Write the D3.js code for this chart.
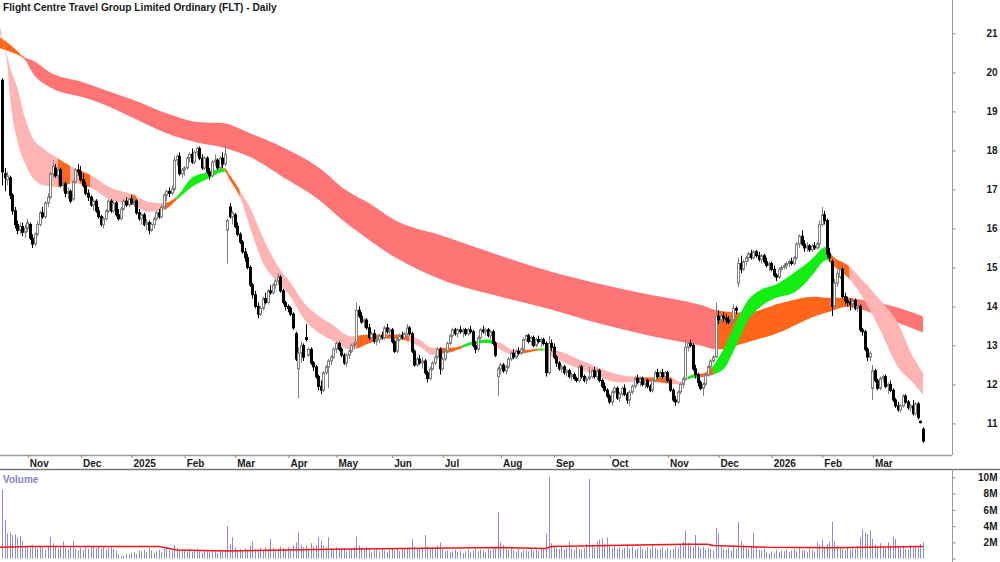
<!DOCTYPE html>
<html>
<head>
<meta charset="utf-8">
<script src="https://cdn.jsdelivr.net/npm/d3@7"></script>
<style>
  body { margin: 0; background: #fff; }
  svg { display: block; }
  text { font-family: "Liberation Sans", Arial, sans-serif; font-weight: bold; font-size: 10px; fill: #1a1a1a; }
</style>
</head>
<body>
<svg id="chart" width="1000" height="562"></svg>
<script>
const title = 'Flight Centre Travel Group Limited Ordinary (FLT) - Daily';

// first trading day of each month, as a bar index
const monthTicks = [['Nov', 10], ['Dec', 31], ['2025', 51], ['Feb', 72], ['Mar', 92], ['Apr', 113],
  ['May', 132], ['Jun', 154], ['Jul', 174], ['Aug', 197], ['Sep', 218], ['Oct', 240], ['Nov', 263],
  ['Dec', 283], ['2026', 304], ['Feb', 324], ['Mar', 344]];
const priceTicks = [11, 12, 13, 14, 15, 16, 17, 18, 19, 20, 21];
const volumeTicks = [0, 2, 4, 6, 8, 10];

// daily [open, high, low, close], 18 Oct 2024 .. 30 Mar 2026
const ohlc = [
  [19.80,19.85,17.10,17.45],[17.40,17.55,16.95,17.30],[17.25,17.45,17.10,17.35],[17.30,17.35,16.75,16.85],[16.85,16.90,16.35,16.45],
  [16.45,16.55,16.00,16.10],[16.10,16.20,15.85,15.95],[15.95,16.15,15.85,16.05],[16.05,16.15,15.80,15.90],[15.90,16.10,15.75,16.00],
  [16.00,16.25,15.90,16.15],[16.10,16.15,15.70,15.75],[15.75,15.85,15.50,15.60],[15.60,15.90,15.55,15.85],[15.85,16.20,15.80,16.10],
  [16.10,16.45,16.05,16.40],[16.40,16.55,16.25,16.30],[16.30,16.70,16.25,16.65],[16.65,16.90,16.55,16.80],[16.80,17.45,16.75,17.40],
  [17.40,17.75,17.30,17.60],[17.55,17.65,17.30,17.35],[17.35,17.60,17.25,17.50],[17.50,17.55,17.05,17.10],[17.10,17.25,16.95,17.15],
  [17.15,17.20,16.80,16.90],[16.90,17.05,16.75,16.95],[16.95,17.00,16.65,16.70],[16.75,17.25,16.70,17.20],[17.20,17.55,17.15,17.50],
  [17.50,17.65,17.35,17.45],[17.45,17.60,17.20,17.25],[17.25,17.40,17.05,17.10],[17.10,17.20,16.85,16.90],[16.90,17.00,16.70,16.80],
  [16.80,16.85,16.55,16.60],[16.60,16.75,16.45,16.70],[16.70,16.75,16.40,16.45],[16.45,16.55,16.25,16.30],[16.30,16.35,16.05,16.10],
  [16.10,16.30,16.00,16.25],[16.25,16.50,16.20,16.45],[16.45,16.75,16.40,16.70],[16.70,16.75,16.40,16.45],[16.45,16.70,16.40,16.65],
  [16.65,16.70,16.30,16.35],[16.35,16.50,16.20,16.25],[16.25,16.55,16.20,16.50],[16.50,16.75,16.45,16.70],[16.70,16.80,16.55,16.60],
  [16.60,16.80,16.55,16.75],[16.75,16.85,16.60,16.65],[16.65,16.80,16.55,16.70],[16.70,16.75,16.35,16.40],[16.40,16.50,16.20,16.25],
  [16.25,16.40,16.10,16.35],[16.35,16.40,16.05,16.10],[16.10,16.25,15.95,16.15],[16.15,16.20,15.85,15.95],[15.95,16.15,15.90,16.10],
  [16.10,16.30,16.00,16.25],[16.25,16.45,16.20,16.40],[16.40,16.50,16.25,16.30],[16.30,16.60,16.25,16.55],[16.55,16.90,16.50,16.85],
  [16.85,17.00,16.70,16.95],[16.95,17.05,16.80,16.90],[16.90,17.10,16.85,17.00],[17.00,17.85,16.95,17.75],[17.75,17.90,17.60,17.85],
  [17.85,17.95,17.35,17.40],[17.40,17.55,17.30,17.50],[17.50,17.60,17.35,17.55],[17.55,17.85,17.50,17.80],[17.80,17.95,17.70,17.90],
  [17.90,18.05,17.65,17.70],[17.70,18.00,17.65,17.95],[17.95,18.10,17.85,18.05],[18.05,18.10,17.75,17.80],[17.80,17.90,17.50,17.55],
  [17.55,17.85,17.50,17.80],[17.80,17.85,17.40,17.45],[17.45,17.55,17.25,17.35],[17.35,17.75,17.30,17.70],[17.70,17.90,17.60,17.75],
  [17.75,17.80,17.50,17.55],[17.55,17.85,17.50,17.80],[17.80,17.95,17.55,17.65],[17.65,18.15,17.60,17.90],[15.95,16.25,15.10,16.20],
  [16.55,16.65,16.25,16.30],[16.30,16.45,16.10,16.40],[16.35,16.40,16.00,16.05],[16.05,16.15,15.80,15.85],[15.85,15.90,15.60,15.65],
  [15.65,15.70,15.35,15.40],[15.40,15.50,15.15,15.25],[15.25,15.35,14.95,15.00],[15.00,15.05,14.50,14.55],[14.55,14.60,14.20,14.30],
  [14.30,14.40,13.95,14.00],[14.00,14.10,13.70,13.80],[13.80,14.00,13.75,13.95],[13.95,14.25,13.90,14.20],[14.20,14.35,14.05,14.10],
  [14.10,14.45,14.05,14.40],[14.40,14.55,14.30,14.35],[14.35,14.60,14.30,14.55],[14.55,14.70,14.45,14.65],[14.65,14.85,14.55,14.75],
  [14.75,14.80,14.35,14.40],[14.40,14.45,14.05,14.10],[14.10,14.15,13.90,14.00],[14.00,14.05,13.85,13.95],[13.95,14.00,13.75,13.80],
  [13.80,13.85,13.40,13.45],[13.30,13.35,12.60,12.65],[12.40,12.95,11.65,12.80],[12.80,13.10,12.55,13.00],[13.00,13.05,12.60,12.70],
  [13.20,13.55,13.10,13.15],[12.75,12.95,12.70,12.90],[12.90,12.95,12.50,12.55],[12.55,12.60,12.35,12.45],[12.45,12.50,12.15,12.20],
  [12.20,12.25,11.85,11.95],[11.95,12.10,11.75,11.85],[11.85,12.35,11.80,12.30],[12.30,12.50,12.25,12.45],[12.45,12.65,11.90,12.60],
  [12.60,12.75,12.50,12.70],[12.70,12.95,12.65,12.90],[12.90,13.10,12.80,13.05],[13.05,13.10,12.85,12.90],[12.90,12.95,12.70,12.75],
  [12.75,12.80,12.50,12.55],[12.55,12.80,12.45,12.75],[12.75,12.90,12.65,12.85],[12.85,13.05,12.80,13.00],[13.00,13.10,12.90,13.05],
  [13.10,14.10,13.05,13.90],[13.90,14.00,13.70,13.75],[13.75,13.85,13.55,13.60],[13.60,13.70,13.45,13.65],[13.65,13.70,13.40,13.45],
  [13.45,13.55,13.15,13.20],[13.20,13.35,13.10,13.30],[13.30,13.40,13.05,13.10],[13.10,13.25,13.00,13.15],[13.15,13.30,13.05,13.25],
  [13.25,13.35,13.15,13.20],[13.20,13.50,13.15,13.45],[13.45,13.55,13.30,13.35],[13.35,13.45,13.20,13.40],[13.40,13.45,13.05,13.10],
  [13.10,13.15,12.80,12.85],[12.85,13.20,12.80,13.15],[13.15,13.30,13.10,13.25],[13.25,13.35,13.15,13.20],[13.20,13.35,13.15,13.30],
  [13.30,13.55,13.25,13.45],[13.45,13.50,13.25,13.30],[13.30,13.35,12.80,12.85],[12.85,12.90,12.45,12.50],[12.50,12.70,12.45,12.65],
  [12.65,12.75,12.50,12.55],[12.55,12.70,12.40,12.60],[12.60,12.65,12.25,12.30],[12.30,12.35,12.05,12.15],[12.15,12.45,12.10,12.40],
  [12.40,12.60,12.35,12.55],[12.55,12.75,12.50,12.70],[12.70,12.95,12.65,12.90],[12.90,12.95,12.25,12.40],[12.40,12.70,12.35,12.65],
  [12.65,12.90,12.60,12.85],[12.85,13.10,12.80,13.05],[13.05,13.30,13.00,13.25],[13.25,13.45,13.20,13.40],[13.40,13.45,13.25,13.30],
  [13.30,13.45,13.20,13.40],[13.40,13.50,13.30,13.35],[13.35,13.45,13.20,13.40],[13.40,13.45,13.25,13.30],[13.30,13.45,13.25,13.40],
  [13.40,13.50,13.30,13.35],[13.35,13.40,12.95,13.00],[13.00,13.10,12.80,12.90],[12.90,13.25,12.85,13.20],[13.20,13.45,13.15,13.40],
  [13.40,13.50,13.30,13.35],[13.35,13.45,13.25,13.40],[13.40,13.45,13.20,13.25],[13.25,13.40,13.15,13.35],[13.35,13.40,13.00,13.05],
  [13.05,13.10,12.70,12.75],[12.20,12.45,11.70,12.40],[12.40,12.55,12.25,12.50],[12.50,12.55,12.30,12.35],[12.35,12.50,12.25,12.45],
  [12.45,12.70,12.40,12.65],[12.65,12.85,12.60,12.80],[12.80,12.90,12.65,12.70],[12.70,12.90,12.65,12.85],[12.85,12.95,12.75,12.80],
  [12.80,12.95,12.75,12.90],[12.90,13.20,12.85,13.15],[13.15,13.30,13.10,13.25],[13.25,13.30,13.05,13.10],[13.10,13.25,13.00,13.20],
  [13.20,13.25,12.95,13.00],[13.00,13.20,12.95,13.15],[13.15,13.25,13.05,13.10],[13.10,13.20,12.95,13.15],[13.15,13.20,13.00,13.05],
  [13.05,13.10,12.20,12.30],[12.30,13.25,12.25,13.05],[13.05,13.15,12.85,12.95],[12.95,13.05,12.65,12.70],[12.70,12.75,12.45,12.55],
  [12.55,12.60,12.35,12.40],[12.40,12.50,12.30,12.45],[12.45,12.50,12.25,12.30],[12.30,12.40,12.20,12.35],[12.35,12.40,12.15,12.20],
  [12.20,12.30,12.10,12.25],[12.25,12.30,12.10,12.15],[12.15,12.20,12.05,12.10],[12.10,12.50,12.05,12.45],[12.45,12.50,12.15,12.20],
  [12.20,12.25,12.05,12.10],[12.10,12.20,12.00,12.15],[12.15,12.45,12.10,12.20],[12.20,12.40,12.15,12.35],[12.35,12.45,12.15,12.20],
  [12.20,12.40,12.10,12.35],[12.35,12.40,12.05,12.10],[12.10,12.15,11.90,11.95],[11.95,12.05,11.80,11.85],[11.85,11.90,11.65,11.70],
  [11.70,11.75,11.50,11.55],[11.55,11.85,11.45,11.80],[11.80,11.95,11.75,11.90],[11.90,11.95,11.60,11.65],[11.65,11.80,11.55,11.75],
  [11.75,11.95,11.70,11.90],[11.90,12.00,11.70,11.75],[11.75,11.80,11.50,11.60],[11.60,11.85,11.45,11.80],[11.80,12.00,11.75,11.95],
  [11.95,12.20,11.90,12.15],[12.15,12.25,12.00,12.05],[12.05,12.20,11.95,12.15],[12.15,12.20,11.95,12.00],[12.00,12.15,11.90,12.10],
  [12.10,12.15,11.90,11.95],[11.95,12.00,11.80,11.85],[11.85,12.15,11.80,12.10],[12.10,12.35,12.05,12.30],[12.30,12.40,12.15,12.20],
  [12.20,12.35,12.10,12.30],[12.30,12.40,12.15,12.20],[12.20,12.35,12.10,12.30],[12.30,12.35,12.05,12.10],[12.10,12.15,11.80,11.85],
  [11.85,11.90,11.55,11.60],[11.60,11.70,11.45,11.55],[11.55,11.85,11.50,11.80],[11.80,12.05,11.75,12.00],[12.00,12.20,11.90,12.15],
  [12.15,13.15,12.10,12.95],[12.95,13.10,12.85,13.05],[13.05,13.15,12.95,13.00],[13.00,13.05,12.35,12.40],[12.40,12.50,12.15,12.25],
  [12.25,12.30,11.95,12.05],[12.05,12.10,11.85,11.90],[11.90,12.05,11.70,12.00],[12.00,12.30,11.95,12.25],[12.25,12.50,12.20,12.45],
  [12.45,12.65,12.40,12.60],[12.60,12.75,12.55,12.70],[12.70,14.10,12.70,13.75],[13.75,13.90,13.55,13.65],[13.65,13.80,13.55,13.75],
  [13.75,13.85,13.60,13.70],[13.70,13.80,13.55,13.65],[13.65,13.75,13.55,13.60],[13.60,13.70,13.50,13.65],[13.65,14.05,13.65,13.95],
  [13.95,14.00,13.80,13.90],[14.60,15.25,14.50,15.10],[15.10,15.30,14.85,14.95],[14.95,15.20,14.90,15.15],[15.15,15.30,15.05,15.25],
  [15.25,15.40,15.15,15.35],[15.35,15.45,15.20,15.25],[15.25,15.45,15.20,15.40],[15.40,15.45,15.25,15.30],[15.30,15.40,15.15,15.20],
  [15.20,15.35,15.10,15.30],[15.30,15.35,15.10,15.15],[15.15,15.25,15.00,15.05],[15.05,15.15,14.90,15.10],[15.10,15.15,14.90,14.95],
  [14.95,15.05,14.75,14.80],[14.80,14.85,14.65,14.75],[14.75,15.00,14.70,14.95],[14.95,15.05,14.90,15.00],[15.00,15.10,14.95,15.05],
  [15.05,15.15,14.95,15.10],[15.10,15.20,15.00,15.15],[15.15,15.25,15.05,15.10],[15.10,15.30,15.05,15.25],[15.25,15.65,15.20,15.60],
  [15.60,15.85,15.50,15.80],[15.80,15.95,15.55,15.60],[15.60,15.70,15.40,15.50],[15.50,15.65,15.40,15.55],[15.55,15.60,15.40,15.45],
  [15.45,15.60,15.40,15.55],[15.55,15.65,15.45,15.50],[15.50,15.65,15.45,15.60],[15.60,16.20,15.50,16.10],[16.10,16.55,16.05,16.35],
  [16.35,16.45,16.10,16.20],[16.20,16.25,15.25,15.35],[15.35,15.50,15.15,15.25],[15.15,15.20,13.75,14.00],[14.00,14.70,13.95,14.60],
  [14.60,14.95,14.50,14.85],[14.75,15.00,14.70,14.95],[14.95,15.00,14.20,14.25],[14.25,14.35,14.05,14.15],[14.15,14.25,14.00,14.10],
  [14.10,14.20,13.90,14.05],[14.05,14.20,13.95,14.15],[14.15,14.20,13.90,13.95],[13.95,14.05,13.85,14.00],[14.00,14.05,13.35,13.40],
  [13.40,13.45,13.25,13.35],[13.35,13.40,12.85,12.90],[12.90,12.95,12.60,12.70],[12.70,12.85,12.60,12.80],[11.90,12.50,11.60,12.35],
  [12.35,12.40,12.05,12.10],[12.10,12.15,11.85,11.90],[11.90,12.20,11.85,12.15],[12.15,12.25,12.05,12.20],[12.20,12.25,11.90,11.95],
  [11.95,12.05,11.75,12.00],[12.00,12.10,11.80,11.85],[11.85,11.90,11.55,11.60],[11.60,11.65,11.40,11.45],[11.45,11.55,11.30,11.35],
  [11.35,11.50,11.30,11.45],[11.45,11.75,11.40,11.70],[11.70,11.75,11.50,11.55],[11.55,11.60,11.35,11.40],[11.40,11.50,11.30,11.45],
  [11.45,11.60,11.20,11.25],[11.25,11.55,11.20,11.50],[11.50,11.55,11.10,11.15],[11.05,11.08,11.00,11.02],[10.85,10.90,10.50,10.55]
];

// daily volume, millions of shares
const volumes = [
  8.5,4.8,3.1,3.2,2.9,3.0,2.6,2.8,2.2,1.6, 1.5,1.3,1.7,1.4,1.2,1.5,1.3,1.1,1.6,2.7,
  1.9,1.4,1.2,1.5,2.1,1.3,1.1,1.4,2.2,1.2, 1.0,1.3,1.1,1.5,1.2,1.4,1.6,1.3,1.5,1.2,
  1.4,1.1,1.3,1.6,1.2,1.0,0.5,0.3,0.4,0.6, 0.5,0.7,0.8,0.6,1.0,0.9,1.1,0.8,1.3,1.0,
  0.7,0.9,1.1,0.8,1.2,1.4,1.0,0.9,1.6,1.3, 1.1,1.2,1.0,0.9,1.1,0.8,1.0,1.2,0.9,0.7,
  0.9,1.1,0.8,1.0,0.9,0.7,1.0,0.8,1.1,4.0, 1.8,2.6,1.3,1.0,1.2,0.9,1.3,1.1,1.6,2.1,
  1.2,1.0,1.3,1.1,1.4,1.2,2.4,1.3,1.0,1.2, 1.5,1.3,1.1,1.4,1.2,1.6,2.0,3.2,1.7,1.4,
  1.6,1.3,1.9,1.5,1.7,2.6,2.2,1.6,1.4,2.6, 1.3,1.1,1.4,1.0,1.2,1.3,0.9,1.1,1.2,1.4,
  2.7,1.6,1.3,1.1,1.4,1.2,0.8,1.0,1.1,0.9, 1.2,1.0,0.8,1.1,1.3,1.0,1.2,0.9,1.1,1.3,
  1.2,1.4,2.4,1.5,1.3,1.2,1.4,2.9,1.5,1.2, 1.4,1.3,1.6,2.0,1.2,0.9,1.0,0.8,0.9,1.1,
  0.8,1.0,0.7,0.9,1.1,0.8,1.0,1.2,0.9,1.1, 1.0,0.8,1.2,1.0,1.4,1.3,5.7,2.0,1.7,1.2,
  1.1,1.4,1.0,0.9,1.2,0.8,1.1,1.0,0.9,1.2, 1.0,1.1,0.9,1.2,1.3,3.0,10.0,1.9,1.5,1.3,
  1.2,1.4,1.1,1.3,2.1,1.2,1.0,1.4,1.2,1.1, 1.3,1.8,9.8,1.6,1.4,2.1,2.3,2.5,1.8,2.6,
  1.5,1.3,1.6,1.2,1.4,1.1,1.3,1.7,1.2,1.5, 1.1,1.3,1.5,1.2,1.0,1.4,1.2,1.6,1.3,1.1,
  1.2,1.4,1.0,1.3,1.1,1.2,1.5,1.3,1.8,2.1, 3.5,1.9,1.6,1.4,2.9,1.5,1.2,1.4,1.1,1.3,
  1.2,1.0,3.8,3.1,1.5,1.2,1.1,1.3,1.0,1.4, 1.2,4.5,2.2,1.7,1.4,1.2,1.6,3.2,1.5,1.1,
  1.0,1.2,0.8,0.6,0.9,0.7,1.1,0.8,1.0,0.9, 1.1,0.8,1.0,1.2,0.9,1.3,1.1,1.0,0.8,1.2,
  1.1,0.9,2.0,1.7,2.3,1.4,1.8,2.0,4.5,2.1, 1.6,1.4,1.2,1.0,1.3,1.1,1.4,1.2,1.6,2.6,
  3.6,3.2,3.0,3.5,2.4,1.7,1.5,1.9,1.4,1.3, 2.0,1.6,2.7,2.4,1.5,1.3,1.6,1.2,1.1,1.7,
  1.4,1.6,1.5,1.8,2.0
];

// volume average line: [bar index, millions]
const volumeAvg = [[-0.8, 1.4], [11, 1.5], [62, 1.5], [69, 1.05], [89, 0.95], [131, 1.15], [197, 1.35],
  [215, 1.25], [217, 1.5], [240, 1.6], [270, 1.75], [279, 1.75], [281, 1.6], [302, 1.4], [328, 1.35], [364, 1.5]];

// short-term moving average ribbon: [bar index, upper, lower]
const shortBand = [
  [-0.8, 21.15, 21.0], [2, 20.44, 20.26], [3, 20.18, 19.47], [6, 19.62, 18.26], [9, 18.85, 17.68], [12, 18.34, 17.32],
  [16, 18.06, 17.11], [22, 17.8, 17.06], [28, 17.57, 17.16], [35, 17.37, 17.04], [43, 17.04, 16.73], [52, 16.86, 16.6],
  [58, 16.68, 16.42], [64, 16.65, 16.47], [69, 16.81, 16.73], [75, 17.29, 17.06], [82, 17.45, 17.29], [88, 17.55, 17.45],
  [90, 17.37, 17.24], [94, 16.98, 16.81], [99, 16.4, 15.83], [103, 15.78, 15.14], [110, 14.94, 14.56], [114, 14.61, 14.25],
  [119, 14.12, 13.71], [125, 13.76, 13.33], [130, 13.56, 13.15], [138, 13.23, 12.89], [145, 13.28, 13.05], [152, 13.28, 13.18],
  [158, 13.28, 13.15], [165, 13.15, 12.97], [170, 12.94, 12.76], [178, 12.94, 12.84], [186, 13.1, 13.02], [192, 13.15, 13.07],
  [197, 13.07, 12.89], [202, 12.89, 12.76], [208, 12.89, 12.82], [213, 12.92, 12.87], [218, 12.89, 12.69], [231, 12.56, 12.33],
  [244, 12.25, 12.05], [257, 12.18, 12.07], [264, 12.18, 12.02], [268, 12.07, 12.0], [272, 12.23, 12.15], [278, 12.3, 12.2],
  [285, 12.89, 12.38], [290, 13.58, 12.97], [295, 14.17, 13.66], [300, 14.43, 14.0], [306, 14.56, 14.22], [313, 14.86, 14.35],
  [321, 15.27, 14.86], [324, 15.48, 15.12], [326, 15.53, 15.19], [328, 15.32, 15.07], [334, 15.07, 14.76], [340, 14.68, 14.25],
  [347, 14.17, 13.4], [354, 13.58, 12.46], [360, 12.71, 12.05], [364, 12.3, 11.74]
];

// long-term moving average ribbon: [bar index, upper, lower]
const longBand = [
  [-0.8, 20.9, 20.62], [4, 20.67, 20.51], [9, 20.38, 20.33], [12, 20.31, 20.0], [19, 20.0, 19.62], [32, 19.75, 19.36],
  [39, 19.59, 19.21], [52, 19.29, 18.83], [65, 18.95, 18.44], [78, 18.72, 18.19], [87, 18.7, 18.08], [98, 18.44, 17.83],
  [111, 18.08, 17.32], [125, 17.57, 16.75], [136, 16.98, 16.14], [145, 16.65, 15.71], [155, 16.22, 15.27], [174, 15.81, 14.68],
  [197, 15.3, 14.25], [217, 14.89, 13.92], [236, 14.58, 13.56], [256, 14.3, 13.25], [276, 14.04, 13.0], [283, 13.89, 12.9],
  [294, 13.84, 13.07], [308, 14.09, 13.35], [321, 14.25, 13.74], [327, 14.22, 13.86], [334, 14.22, 13.99], [340, 14.17, 13.92],
  [347, 14.09, 13.74], [354, 13.97, 13.58], [364, 13.74, 13.33]
];

// ribbon colouring by trend state: [from bar, to bar, state]
const shortColours = [[-1, 22, 'down'], [22, 27, 'mixed'], [27, 31, 'down'], [31, 35, 'mixed'], [35, 51, 'down'],
  [51, 53, 'mixed'], [53, 64, 'down'], [64, 69, 'mixed'], [69, 88, 'up'], [88, 94, 'mixed'], [94, 140, 'down'],
  [140, 161, 'mixed'], [161, 173, 'down'], [173, 182, 'mixed'], [182, 194, 'up'], [194, 205, 'down'], [205, 212, 'mixed'],
  [212, 214, 'up'], [214, 250, 'down'], [250, 265, 'mixed'], [265, 271, 'down'], [271, 275, 'up'], [275, 281, 'mixed'],
  [281, 327, 'up'], [327, 335, 'mixed'], [335, 366, 'down']];
const longColours = [[-1, 9, 'mixed'], [9, 282, 'down'], [282, 336, 'mixed'], [336, 366, 'down']];

const shortFill = { down: '#ffb3b3', mixed: '#ff661a', up: '#11ee11' };
const longFill = { down: '#ff7575', mixed: '#ff661a', up: '#11ee11' };

const svg = d3.select('#chart');
const axisX = 952;
const priceBottom = 455;
const volumeTop = 469;

const x = d3.scaleLinear().domain([0, ohlc.length - 1]).range([2, 923]);
const y = d3.scaleLinear().domain([11, 21]).range([423.4, 33.4]);
const yv = d3.scaleLinear().domain([0, 10]).range([558.6, 477.3]);

const defs = svg.append('defs');
defs.append('clipPath').attr('id', 'price-clip')
  .append('rect').attr('x', 0).attr('y', 0).attr('width', axisX).attr('height', priceBottom);

const price = svg.append('g').attr('clip-path', 'url(#price-clip)');

function drawBand(band, colours, fills, id) {
  const area = d3.area()
    .x(d => x(d[0]))
    .y0(d => y(d[2]))
    .y1(d => y(d[1]))
    .curve(d3.curveMonotoneX);
  const g = price.append('g');
  colours.forEach(([a, b, state], i) => {
    const cid = `${id}-${i}`;
    defs.append('clipPath').attr('id', cid)
      .append('rect')
        .attr('x', x(a)).attr('y', 0)
        .attr('width', x(b) - x(a)).attr('height', priceBottom);
    g.append('path')
      .attr('d', area(band))
      .attr('fill', fills[state])
      .attr('clip-path', `url(#${cid})`);
  });
}

drawBand(longBand, longColours, longFill, 'long');
drawBand(shortBand, shortColours, shortFill, 'short');

// candles
const candle = price.append('g').selectAll('g')
  .data(ohlc)
  .join('g')
    .attr('transform', (d, i) => `translate(${Math.round(x(i))}, 0)`);
candle.append('line')
  .attr('x1', 0.5).attr('x2', 0.5)
  .attr('y1', d => y(d[1])).attr('y2', d => y(d[2]))
  .attr('stroke', d => d[3] >= d[0] ? '#808080' : '#000')
  .attr('stroke-width', 1);
candle.append('rect')
  .attr('x', -0.5)
  .attr('width', 2)
  .attr('y', d => y(Math.max(d[0], d[3])))
  .attr('height', d => Math.max(0.5, Math.abs(y(d[0]) - y(d[3]))))
  .attr('fill', d => d[3] >= d[0] ? '#fff' : '#000')
  .attr('stroke', d => d[3] >= d[0] ? '#808080' : '#000')
  .attr('stroke-width', 1);

// title
svg.append('text').attr('x', 3).attr('y', 11).style('font-size', '10.2px').text(title);

// frame lines
svg.append('line').attr('x1', 0).attr('x2', axisX).attr('y1', priceBottom + 0.5).attr('y2', priceBottom + 0.5)
  .attr('stroke', '#9a9a9a').attr('stroke-width', 1.5);
svg.append('line').attr('x1', 0).attr('x2', 1000).attr('y1', volumeTop + 0.5).attr('y2', volumeTop + 0.5)
  .attr('stroke', '#777').attr('stroke-width', 1.3);

// month axis
const xAxis = svg.append('g')
  .attr('transform', `translate(0, ${priceBottom})`)
  .call(d3.axisBottom(x)
    .tickValues(monthTicks.map(d => d[1]))
    .tickFormat((d, i) => monthTicks[i][0])
    .tickSize(3));
xAxis.select('.domain').remove();
xAxis.selectAll('.tick line').attr('stroke', '#888').attr('transform', 'translate(0.5, 0)');
xAxis.selectAll('.tick text')
  .attr('text-anchor', 'start').attr('x', 2).attr('y', 11.5).attr('dy', 0)
  .attr('fill', '#1a1a1a').style('font-size', '10px');

// price axis
const yAxis = svg.append('g')
  .attr('transform', `translate(${axisX + 0.5}, 0)`)
  .call(d3.axisRight(y).tickValues(priceTicks).tickFormat(d3.format('d')).tickSize(3));
yAxis.select('.domain').remove();
yAxis.selectAll('.tick line').attr('stroke', '#888');
yAxis.selectAll('.tick text').attr('x', 45).attr('text-anchor', 'end').attr('fill', '#1a1a1a').style('font-size', '10px');
svg.append('line').attr('x1', axisX + 0.5).attr('x2', axisX + 0.5).attr('y1', 0).attr('y2', priceBottom)
  .attr('stroke', '#999');

// volume panel
svg.append('text').attr('x', 3).attr('y', 482.5).style('fill', '#8585c2').text('Volume');

svg.append('g').selectAll('line')
  .data(volumes)
  .join('line')
    .attr('x1', (d, i) => Math.round(x(i)) + 0.5)
    .attr('x2', (d, i) => Math.round(x(i)) + 0.5)
    .attr('y1', yv(0))
    .attr('y2', d => yv(d))
    .attr('stroke', '#8c8cd6')
    .attr('stroke-width', 1);

svg.append('path')
  .datum(volumeAvg)
  .attr('d', d3.line().x(d => x(d[0])).y(d => yv(d[1])))
  .attr('fill', 'none')
  .attr('stroke', '#ff1010')
  .attr('stroke-width', 1.5);

const vAxis = svg.append('g')
  .attr('transform', `translate(${axisX + 0.5}, 0)`)
  .call(d3.axisRight(yv).tickValues(volumeTicks).tickFormat(d => d ? `${d}M` : '').tickSize(3));
vAxis.select('.domain').remove();
vAxis.selectAll('.tick line').attr('stroke', '#888');
vAxis.selectAll('.tick text').attr('x', 45).attr('text-anchor', 'end').attr('fill', '#1a1a1a').style('font-size', '10px');
svg.append('line').attr('x1', axisX + 0.5).attr('x2', axisX + 0.5).attr('y1', volumeTop).attr('y2', 562)
  .attr('stroke', '#999');
</script>
</body>
</html>
